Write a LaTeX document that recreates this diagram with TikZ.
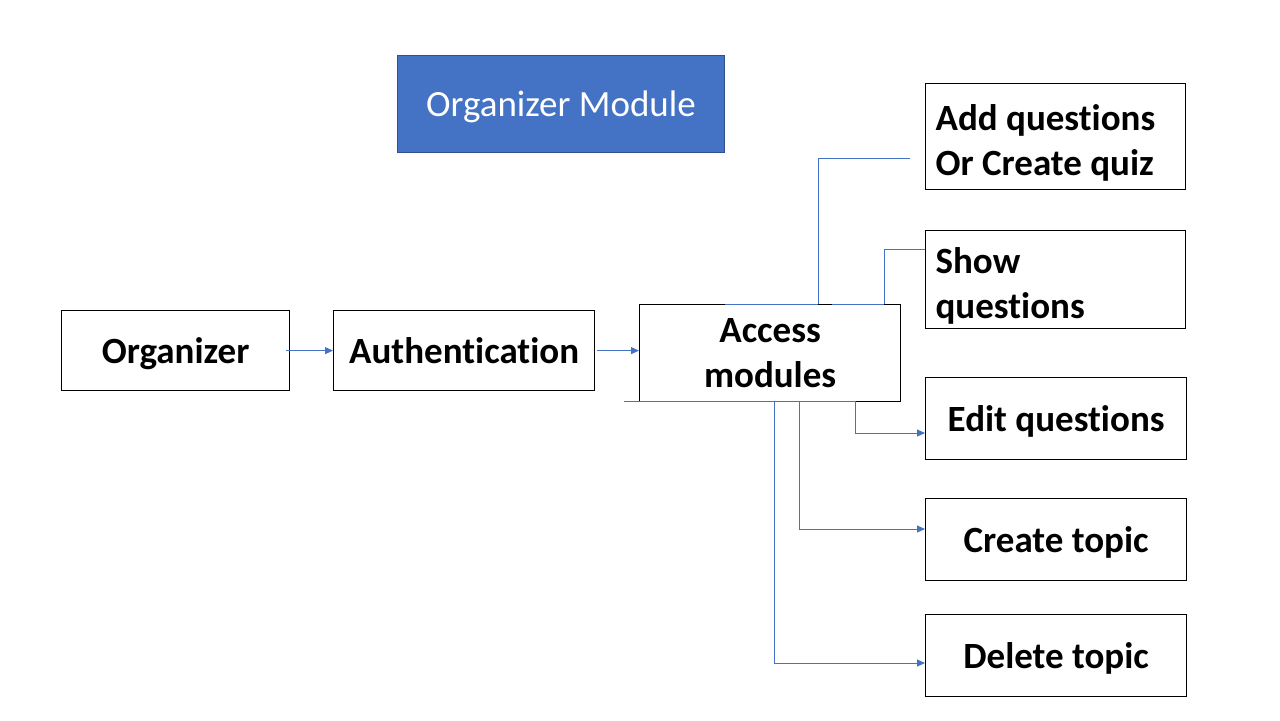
\documentclass[tikz,border=0pt]{standalone}
\usepackage{fontspec}
\setmainfont{Carlito}[Ligatures=NoCommon]
\usetikzlibrary{arrows.meta}
\usetikzlibrary{positioning}
\definecolor{linkblue}{HTML}{4472C4}
\definecolor{headblue}{HTML}{4472C4}
\definecolor{headedge}{HTML}{2F528F}
\tikzset{
  box/.style={draw=black, line width=0.6pt, fill=white, font=\fontsize{18.5}{22.5}\selectfont\bfseries, inner sep=0pt, text depth=0pt},
  leftbox/.style={box, anchor=north west, align=flush left, text width=120pt, inner xsep=5pt, inner ysep=0pt, text depth=, text height=19pt},
  link/.style={draw=linkblue, line width=0.5pt},
  arrowlink/.style={link, -{Triangle[length=4pt, width=3.5pt]}}
}
\begin{document}
\begin{tikzpicture}[x=0.5pt, y=-0.5pt]
  \useasboundingbox (0,0) rectangle (1280,720);
  % draw title
  \node[fill=headblue, draw=headedge, line width=0.5pt, text=white, minimum width=163.5pt, minimum height=48.5pt, text depth=0pt, anchor=north west, font=\fontsize{18.5}{22}\selectfont] (title) at (397,55) {Organizer Module};
  % draw boxes
  \node[box, minimum width=114pt, minimum height=40pt, anchor=north west] (org) at (61,310) {Organizer};
  \node[box, minimum width=130.5pt, minimum height=40pt, anchor=north west] (auth) at (333,310) {Authentication};
  \node[box, align=center, minimum width=130.5pt, minimum height=48.5pt, anchor=north west] (access) at (639,304) {Access\\modules};
  \node[leftbox, minimum height=53pt] (addq) at (925,83) {Add questions\\Or Create quiz};
  \node[leftbox, minimum height=49pt] (showq) at (925,230) {Show\\questions};
  \node[box, minimum width=130.5pt, minimum height=41pt, anchor=north west] (editq) at (925,377) {Edit questions};
  \node[box, minimum width=130.5pt, minimum height=41pt, anchor=north west] (ctopic) at (925,498) {Create topic};
  \node[box, minimum width=130.5pt, minimum height=41pt, anchor=north west] (dtopic) at (925,614) {Delete topic};
  % add arrows
  \draw[arrowlink] (org.east) ++(-4,0) -- (auth.west);
  \draw[arrowlink] (auth.east) ++(2,0) -- (access.west |- auth.east);
  % lines along access box
  \coordinate (abl) at (624,401);
  \draw[link] (abl) -- (855,401);
  \draw[link] (725,304) -- (818,304);
  \draw[link] (832,304) -- (884,304);
  % branches
  \coordinate (addend) at (910,158);
  \draw[link] (818,304) |- (addend);
  \draw[link] (884,304) |- (showq.west |- 0,249);
  \draw[arrowlink] (855,401) |- (editq.west |- 0,433);
  \draw[arrowlink] (799,401) |- (ctopic.west |- 0,529);
  \draw[arrowlink] (774,401) |- (dtopic.west |- 0,663);
\end{tikzpicture}
\end{document}
